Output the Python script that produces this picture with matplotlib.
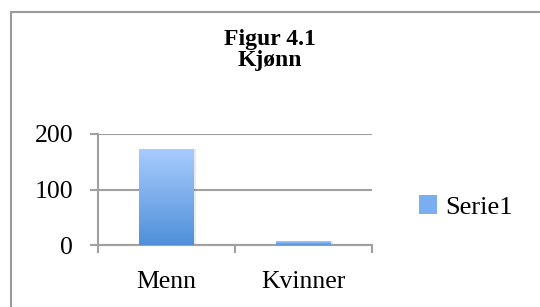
import matplotlib
matplotlib.use("Agg")
import matplotlib.pyplot as plt
import numpy as np
from matplotlib.patches import Patch, Rectangle
from matplotlib.colors import LinearSegmentedColormap

categories = ["Menn", "Kvinner"]
values = [173, 7]
series_name = "Serie1"
yticks = [0, 100, 200]
title = "Figur 4.1\nKjønn"

plt.rcParams['font.family'] = ['Liberation Serif', 'DejaVu Serif']

W, H = 540, 307
fig = plt.figure(figsize=(W / 100, H / 100), dpi=100)
fig.patch.set_facecolor("white")

# outer chart frame
fig.add_artist(Rectangle((11 / W, -0.1), 1.2, 1 - 12 / H + 0.1, transform=fig.transFigure,
                         fill=False, edgecolor="#9a9a9a", linewidth=1.5))

ax = fig.add_axes([98 / W, 62 / H, (372 - 98) / W, (173 - 62) / H])
x = np.arange(len(categories))

cmap = LinearSegmentedColormap.from_list("blu", ["#4f90d8", "#a9ccff"])
grad = np.linspace(0, 1, 256).reshape(-1, 1)
bars = ax.bar(x, values, width=0.4, color="none", edgecolor="none", zorder=3)
for b in bars:
    x0, y0 = b.get_x(), b.get_y()
    w, h = b.get_width(), b.get_height()
    ax.add_patch(Rectangle((x0 + 0.012, y0), w, h, facecolor="#000000", alpha=0.08,
                           edgecolor="none", zorder=2))
    im = ax.imshow(grad, extent=[x0, x0 + w, y0, y0 + h], origin="lower", cmap=cmap,
                   aspect="auto", zorder=3)
    im.set_clip_path(b)

ax.set_xlim(-0.5, len(categories) - 0.5)
ax.set_ylim(0, 200)

ax.set_yticks(yticks)
ax.set_yticklabels([str(v) for v in yticks], fontsize=18.5)
ax.yaxis.grid(True, color="#a0a0a0", linewidth=1.5, zorder=0)
ax.set_axisbelow(True)

ax.set_xticks(x)
ax.set_xticklabels(categories, fontsize=18.5)
ax.set_xticks([-0.5, 0.5, 1.5], minor=True)
ax.tick_params(axis="x", which="major", length=0, pad=19)
ax.tick_params(axis="x", which="minor", length=6, width=1.5, color="#a0a0a0", direction="out")
ax.tick_params(axis="y", length=6, width=1.5, color="#a0a0a0", direction="out", pad=12)

for s in ["top", "right"]:
    ax.spines[s].set_visible(False)
for s in ["left", "bottom"]:
    ax.spines[s].set_color("#a0a0a0")
    ax.spines[s].set_linewidth(1.5)

fig.text(270 / W, 1 - 50 / H, title, ha="center", va="center", fontsize=17,
         fontweight="bold", linespacing=1.05)

leg = fig.legend(handles=[Patch(facecolor="#7aaef0", edgecolor="none", label=series_name)],
                 loc="center left", bbox_to_anchor=(419 / W, 1 - 207 / H), frameon=False,
                 fontsize=19, handlelength=0.7, handleheight=0.7, handletextpad=0.3,
                 borderaxespad=0, borderpad=0)

fig.savefig("out.png", dpi=100, facecolor="white")
